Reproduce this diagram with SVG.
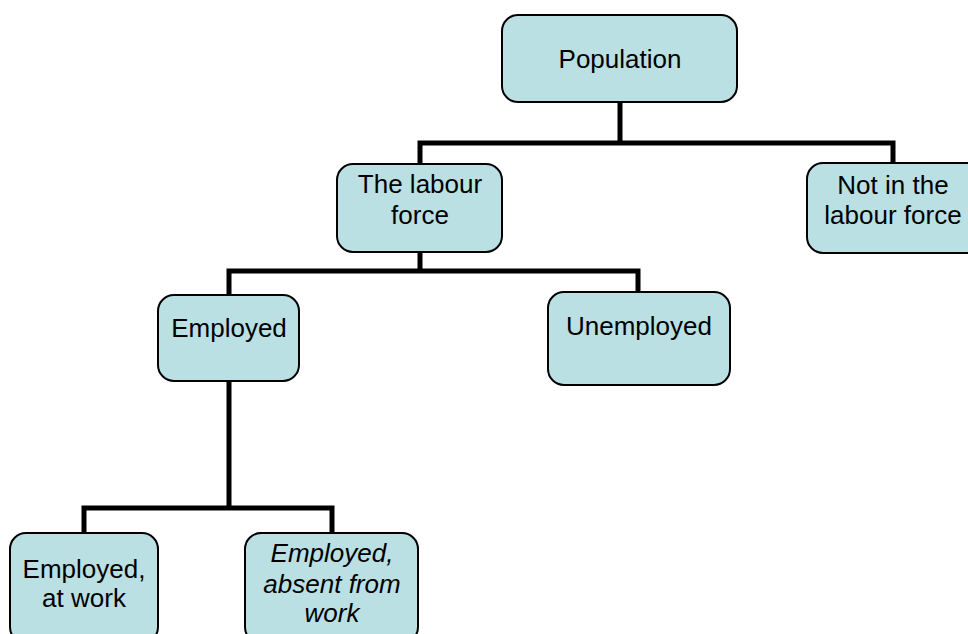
<svg xmlns="http://www.w3.org/2000/svg" width="968" height="634" viewBox="0 0 968 634">
<style>
.box{fill:#BAE0E3;stroke:#000;stroke-width:2}
.lbl{font-family:"Liberation Sans",Arial,sans-serif;font-size:26px;fill:#000;text-anchor:middle}
.it{font-style:italic}
.con{fill:none;stroke:#000;stroke-width:5;stroke-linejoin:miter;stroke-linecap:square}
</style>
<rect width="968" height="634" fill="#fff"/>
<g id="connectors">
<path class="con" d="M620,102 V143 M420,163 V143 H893 V163"/>
<path class="con" d="M420,252 V271 M229,295 V271 H638 V292"/>
<path class="con" d="M229,381 V508 M84,533 V508 H332 V533"/>
</g>
<g id="population">
<rect class="box" x="502" y="15" width="235" height="87" rx="16"/>
<text class="lbl" x="620" y="68">Population</text>
</g>
<g id="labour-force">
<rect class="box" x="337" y="164" width="165" height="88" rx="16"/>
<text class="lbl" x="420" y="193">The labour</text>
<text class="lbl" x="420" y="224">force</text>
</g>
<g id="not-in-labour-force">
<rect class="box" x="807" y="163" width="175" height="90" rx="16"/>
<text class="lbl" x="893" y="194">Not in the</text>
<text class="lbl" x="893" y="224">labour force</text>
</g>
<g id="employed">
<rect class="box" x="158" y="295" width="141" height="86" rx="16"/>
<text class="lbl" x="229" y="337">Employed</text>
</g>
<g id="unemployed">
<rect class="box" x="548" y="292" width="182" height="93" rx="16"/>
<text class="lbl" x="639" y="335">Unemployed</text>
</g>
<g id="employed-at-work">
<rect class="box" x="10" y="533" width="148" height="110" rx="16"/>
<text class="lbl" x="84" y="578">Employed,</text>
<text class="lbl" x="84" y="607">at work</text>
</g>
<g id="employed-absent">
<rect class="box" x="245" y="533" width="173" height="110" rx="16"/>
<text class="lbl it" x="332" y="562">Employed,</text>
<text class="lbl it" x="332" y="593">absent from</text>
<text class="lbl it" x="332" y="622">work</text>
</g>
</svg>
